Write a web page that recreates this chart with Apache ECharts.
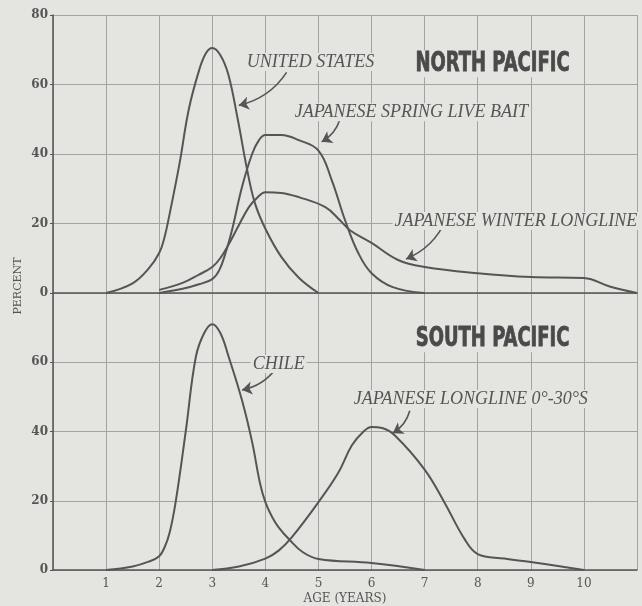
<!DOCTYPE html>
<html>
<head>
<meta charset="utf-8">
<script src="https://cdn.jsdelivr.net/npm/echarts@6/dist/echarts.min.js"></script>
<style>
  html, body { margin: 0; background: #e4e4e1; }
  #chart { width: 642px; height: 606px; }
</style>
</head>
<body>
<div id="chart"></div>
<script>
// age (years) vs percent
const usData = [[1, 0], [1.5, 2.8], [1.8, 7], [2, 11.5], [2.1, 16], [2.2, 23], [2.38, 37], [2.56, 53], [2.75, 64], [2.88, 69], [3, 70.5], [3.15, 68.5], [3.3, 63], [3.48, 50], [3.65, 36], [3.8, 26], [4, 18.5], [4.3, 10.4], [4.63, 4.4], [5, 0]];
const springBaitData = [[2, 0], [2.44, 1.2], [2.75, 2.5], [3, 4], [3.13, 6.5], [3.25, 11.5], [3.37, 18], [3.56, 30.5], [3.75, 40], [3.88, 44], [4, 45.5], [4.3, 45.5], [4.63, 44], [5, 41], [5.25, 32.5], [5.5, 21], [5.75, 11.5], [6, 5.7], [6.4, 1.7], [7, 0]];
const winterLonglineData = [[2, 0.9], [2.44, 2.9], [2.75, 5.3], [3, 7.5], [3.15, 10], [3.31, 14], [3.5, 19.5], [3.69, 24.7], [3.85, 27.5], [4, 29], [4.3, 28.8], [4.63, 27.6], [5.13, 24.7], [5.4, 21], [5.6, 18], [6, 14.4], [6.5, 9.5], [7, 7.5], [8, 5.7], [9, 4.6], [10, 4.3], [10.5, 1.8], [11, 0]];
const chileData = [[1, 0], [1.5, 1], [1.8, 2.4], [2, 4], [2.1, 6.5], [2.2, 11], [2.31, 19.6], [2.5, 40], [2.69, 61.5], [2.85, 68.5], [3, 71], [3.15, 68.5], [3.31, 61.5], [3.56, 49], [3.75, 37], [3.9, 25], [4, 19.6], [4.12, 15.5], [4.25, 12.3], [4.45, 8.8], [4.7, 5.2], [5, 3.2], [6, 2], [7, 0]];
const longlineSouthData = [[3, 0], [3.5, 1], [4, 3.3], [4.25, 5.6], [4.5, 9.5], [5, 19.6], [5.37, 28], [5.63, 36], [5.85, 40], [6, 41.3], [6.2, 41], [6.45, 38.7], [7, 29], [7.37, 19.6], [7.75, 9], [8, 4.6], [8.5, 3.3], [9, 2.3], [10, 0]];

const xTickLabels = ['1', '2', '3', '4', '5', '6', '7', '8', '9', '10'];
const yTickLabelsTop = ['0', '20', '40', '60', '80'];
const yTickLabelsBottom = ['0', '20', '40', '60'];

// [text, x, y, panel]
const seriesLabels = [
  ['UNITED STATES', 4.85, 66.5, 0],
  ['JAPANESE SPRING LIVE BAIT', 6.75, 52, 0],
  ['JAPANESE WINTER LONGLINE', 8.72, 20.7, 0],
  ['CHILE', 4.25, 59.5, 1],
  ['JAPANESE LONGLINE 0°-30°S', 7.87, 49.4, 1]
];
const panelTitles = [
  ['NORTH PACIFIC', 8.28, 66, 0],
  ['SOUTH PACIFIC', 8.28, 66.8, 1]
];
// arrows: [from, to]
const topArrows = [
  [[4.4, 63.5], [3.5, 54]],
  [[5.4, 49.8], [5.06, 43.5]],
  [[7.4, 21], [6.65, 9.8]]
];
const bottomArrows = [
  [[4.21, 58.4], [3.56, 52]],
  [[6.72, 46], [6.4, 39.5]]
];

const ink = '#555555';
const gridColor = '#a2a2a0';
const bg = '#e4e4e1';
const serif = '"DejaVu Serif", "Liberation Serif", serif';

const chart = echarts.init(document.getElementById('chart'));

function xAxis(idx, showLabels) {
  return {
    type: 'value', gridIndex: idx, min: 0, max: 11, interval: 1,
    axisLine: { show: true, lineStyle: { color: ink, width: 1.5 } },
    axisTick: { show: false },
    axisLabel: {
      show: showLabels, color: ink, fontFamily: serif, fontSize: 12, margin: 8,
      formatter: v => xTickLabels.includes(String(v)) ? String(v) : ''
    },
    splitLine: { show: true, lineStyle: { color: gridColor, width: 1 } },
    name: showLabels ? 'AGE (YEARS)' : '',
    nameLocation: 'middle', nameGap: 23,
    nameTextStyle: { color: ink, fontFamily: serif, fontSize: 12 }
  };
}

function yAxis(idx, labels) {
  return {
    type: 'value', gridIndex: idx, min: 0, max: 80, interval: 20,
    axisLine: { show: true, lineStyle: { color: ink, width: 1.5 } },
    axisTick: { show: true, length: 3, lineStyle: { color: ink } },
    axisLabel: {
      color: ink, fontFamily: serif, fontSize: 12, fontWeight: 'bold', margin: 5,
      formatter: v => labels.includes(String(v)) ? String(v) : ''
    },
    splitLine: { show: true, lineStyle: { color: gridColor, width: 1 } }
  };
}

function curve(name, data, idx) {
  return {
    name, type: 'line', xAxisIndex: idx, yAxisIndex: idx, data,
    smooth: 0.4, showSymbol: false, silent: true,
    lineStyle: { color: ink, width: 2 }
  };
}

function arrows(list, idx) {
  return {
    type: 'lines', coordinateSystem: 'cartesian2d', xAxisIndex: idx, yAxisIndex: idx,
    silent: true, z: 5,
    symbol: ['none', 'arrow'], symbolSize: 10,
    lineStyle: { color: ink, width: 1.6, curveness: 0.2, opacity: 1 },
    data: list.map(pair => ({ coords: pair }))
  };
}

chart.setOption({
  backgroundColor: bg,
  animation: false,
  grid: [
    { left: 53, right: 5, top: 15, height: 278 },
    { left: 53, right: 5, top: 293, height: 278 }
  ],
  xAxis: [xAxis(0, false), xAxis(1, true)],
  yAxis: [yAxis(0, yTickLabelsTop), yAxis(1, yTickLabelsBottom)],
  series: [
    curve('United States', usData, 0),
    curve('Japanese spring live bait', springBaitData, 0),
    curve('Japanese winter longline', winterLonglineData, 0),
    curve('Chile', chileData, 1),
    curve('Japanese longline 0°-30°S', longlineSouthData, 1),
    arrows(topArrows, 0),
    arrows(bottomArrows, 1)
  ]
});

const toPx = (x, y, idx) => chart.convertToPixel({ gridIndex: idx }, [x, y]);

const graphics = [];
seriesLabels.forEach(([text, x, y, idx]) => {
  const [px, py] = toPx(x, y, idx);
  graphics.push({
    type: 'text', x: px, y: py, silent: true, z: 10,
    style: {
      text, fill: ink, font: 'italic 18px "Liberation Serif", "DejaVu Serif", serif',
      align: 'center', verticalAlign: 'middle',
      backgroundColor: bg, padding: [0, 2]
    }
  });
});
panelTitles.forEach(([text, x, y, idx]) => {
  const [px, py] = toPx(x, y, idx);
  graphics.push({
    type: 'text', x: px, y: py, scaleX: 0.74, silent: true, z: 10,
    style: {
      text, fill: '#4a4a4a', stroke: '#4a4a4a', lineWidth: 0.8,
      font: 'bold 27px "DejaVu Sans Condensed", "DejaVu Sans", sans-serif',
      align: 'center', verticalAlign: 'middle',
      backgroundColor: bg, padding: [0, 4]
    }
  });
});
graphics.push({
  type: 'text', x: 18, y: 286, rotation: Math.PI / 2, silent: true,
  style: {
    text: 'PERCENT', fill: ink, font: '11px "DejaVu Serif", serif',
    align: 'center', verticalAlign: 'middle'
  }
});
chart.setOption({ graphic: graphics });
</script>
</body>
</html>
